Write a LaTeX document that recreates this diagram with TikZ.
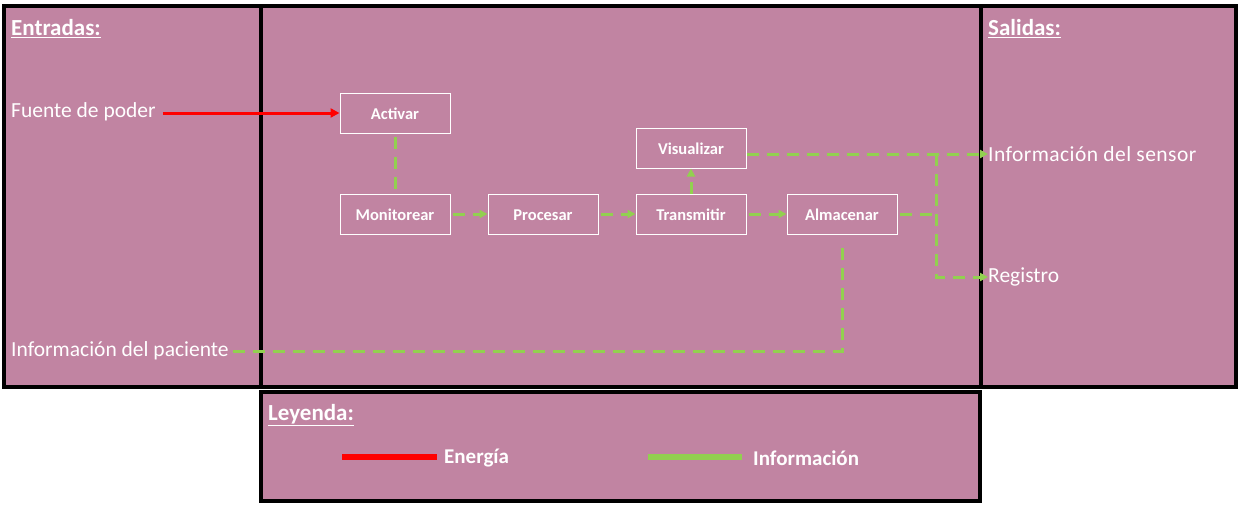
\documentclass[tikz,border=0pt]{standalone}
\usepackage{fontspec}
\setmainfont{Carlito}
\usetikzlibrary{arrows.meta}
\definecolor{bgm}{RGB}{193,132,162}
\definecolor{infog}{RGB}{146,208,80}
\definecolor{enr}{RGB}{255,0,0}
\tikzset{
  panel/.style={draw=black, fill=bgm, line width=3.5pt},
  proc/.style={draw=white, line width=1pt, minimum width=110pt, minimum height=40pt, text=white, font=\bfseries\fontsize{16.5}{18}\selectfont, inner sep=0pt, text depth=0pt, text height=13pt},
  lbl/.style={anchor=west, inner sep=0pt, text=white, font=\fontsize{21.5}{23}\selectfont},
  ttl/.style={anchor=west, inner sep=0pt, text=white, font=\bfseries\fontsize{23}{25}\selectfont},
  leg/.style={anchor=west, inner sep=0pt, text=white, font=\bfseries\fontsize{21}{23}\selectfont},
  info/.style={draw=infog, line width=3pt, dash pattern=on 12pt off 8pt},
  infoarr/.style={info, -{Triangle[length=8pt,width=8pt]}},
  energy/.style={draw=enr, line width=3pt, -{Triangle[length=9pt,width=9pt]}},
}
\begin{document}
\begin{tikzpicture}[x=1pt,y=-1pt]
\useasboundingbox (0,0) rectangle (1242,507);
% panels
\draw[panel] (4,6) rectangle (261,387);
\draw[panel] (981,6) rectangle (1236,387);
\draw[panel] (261,6) rectangle (981,387);
\draw[panel] (261,392) rectangle (980,501);
% titles
\node[ttl] (entradas) at (11,29) {\underline{Entradas:}};
\node[ttl] (salidas) at (988,29) {\underline{Salidas:}};
\node[ttl] (leyenda) at (268,415) {\underline{Leyenda:}};
% labels
\node[lbl] (fuente) at (11,112) {Fuente de poder};
\node[lbl] (paciente) at (11,351) {Información del paciente};
\node[lbl] (sensor) at (988,154) {\addfontfeature{LetterSpace=2}Información del sensor};
\node[lbl] (registro) at (988,277) {Registro};
% process boxes
\node[proc] (act) at (395,113) {Activar};
\node[proc] (mon) at (395,214) {Monitorear};
\node[proc] (pro) at (543,214) {Procesar};
\node[proc] (tra) at (691,214) {Transmitir};
\node[proc] (vis) at (691,148) {Visualizar};
\node[proc] (alm) at (842,214) {Almacenar};
% connectors
\draw[energy] ([xshift=7pt]fuente.east |- act.west) -- (act.west);
\draw[info] ([yshift=-3pt]act.south) -- (mon.north);
\draw[infoarr] ([xshift=2pt]mon.east) -- (pro.west);
\draw[infoarr] ([xshift=2pt]pro.east) -- (tra.west);
\draw[infoarr] ([xshift=2pt]tra.east) -- (alm.west);
\draw[infoarr] (tra.north) -- (vis.south);
\coordinate (j1) at (936,154);
\draw[infoarr] (vis.east |- j1) -- (sensor.west |- j1);
\draw[info] ([xshift=2pt]alm.east) -- (alm.east -| j1);
\draw[infoarr] (j1) |- (registro.west);
\draw[info] ([xshift=4pt]paciente.east) -| ([yshift=-6pt]alm.south);
% legend
\coordinate (er0) at (342,457);
\coordinate (er1) at (437,457);
\coordinate (ig0) at (648,457);
\coordinate (ig1) at (742,457);
\draw[enr, line width=6pt] (er0) -- (er1);
\draw[infog, line width=6pt] (ig0) -- (ig1);
\node[leg] (energia) at (444,458) {Energía};
\node[leg] (informacion) at (753,458) {Información};
\end{tikzpicture}
\end{document}
